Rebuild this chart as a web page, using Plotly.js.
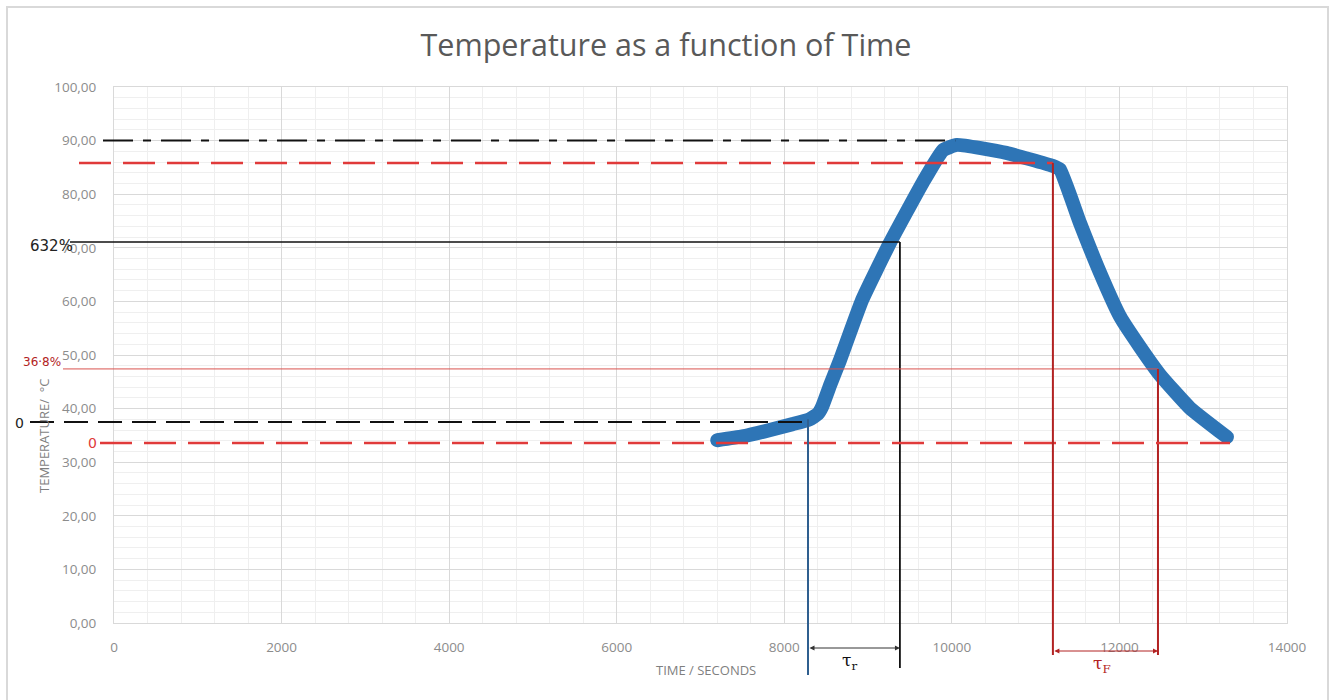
<!DOCTYPE html>
<html>
<head>
<meta charset="utf-8">
<script src="https://cdn.plot.ly/plotly-3.0.1.min.js"></script>
<style>
html,body{margin:0;padding:0;background:#fff;}
#chart{width:1334px;height:700px;}
.js-line{stroke-linecap:round;stroke-linejoin:round;}
</style>
</head>
<body>
<div id="chart"></div>
<script>
// ---- data ----
const timeSeconds = [7200, 7500, 7800, 8100, 8300, 8400, 8450, 8550, 8664, 8930, 9260, 9650, 9894, 10060, 10650, 11200, 11290, 11530, 11770, 12010, 12245, 12484, 12842, 13283];
const temperature = [34.1, 34.8, 35.9, 37.1, 38.0, 39.0, 40.3, 44.5, 49.0, 60.3, 70.9, 82.1, 88.2, 89.2, 87.7, 85.3, 84.6, 74.6, 65.3, 57.1, 51.5, 46.3, 40.1, 34.7];

const xTickValues = [0, 2000, 4000, 6000, 8000, 10000, 12000, 14000];
const yTickValues = [0, 10, 20, 30, 40, 50, 60, 70, 80, 90, 100];

// reference levels (°C) and times (s) marked on the chart
const levelMax = 90.0;        // black dash-dot
const levelFinal = 85.8;      // red dashed (top)
const level632 = 71.1;        // black solid (63.2 %)
const level368 = 47.4;        // red thin (36.8 %)
const levelStart = 37.5;      // black dashed
const levelZero = 33.6;       // red dashed (bottom)
const timeRiseStart = 8283;
const timeRise632 = 9380;
const timePeak = 10040;
const timeFallStart = 11206;
const timeFall368 = 12460;
const timeEnd = 13320;

// ---- geometry helpers (plot area in pixels) ----
const L = 114, R = 1287, T = 87, B = 623;
const XMAX = 14000, YMAX = 100;
const fx = v => v / XMAX;               // data -> paper
const fy = v => v / YMAX;
const px = p => (p - L) / (R - L);      // pixel -> paper
const py = p => (B - p) / (B - T);

const black = '#111111', red = '#E03A3A', darkRed = '#B22222', blueLine = '#2F5F8F';

function hline(x0, x1, y, color, width, dash) {
  return {type: 'line', xref: 'paper', yref: 'paper', x0: x0, x1: x1, y0: y, y1: y,
          line: {color: color, width: width, dash: dash || 'solid'}, layer: 'above'};
}
function vline(x, y0, y1, color, width) {
  return {type: 'line', xref: 'paper', yref: 'paper', x0: x, x1: x, y0: y0, y1: y1,
          line: {color: color, width: width}, layer: 'above'};
}
function label(text, xp, yp, font, extra) {
  return Object.assign({text: text, xref: 'paper', yref: 'paper', x: px(xp), y: py(yp),
    xanchor: 'center', yanchor: 'middle', showarrow: false, font: font}, extra || {});
}

const shapes = [
  // outer chart border
  {type: 'rect', xref: 'paper', yref: 'paper', x0: px(7), x1: px(1328), y0: py(712), y1: py(7),
   line: {color: '#d9d9d9', width: 2}, layer: 'below'},
  hline(px(103), fx(timePeak), fy(levelMax), black, 2, '30px,10px,8px,10px'),
  hline(px(79), fx(timeFallStart), fy(levelFinal), red, 2.5, '32px,12px'),
  hline(px(70), fx(timeRise632), fy(level632), black, 1.5),
  vline(fx(timeRise632), fy(level632), py(668), black, 1.8),
  hline(px(63), fx(timeFall368), fy(level368), '#D9534F', 1),
  vline(fx(timeFall368), fy(level368), py(655), darkRed, 2),
  hline(px(30), fx(timeRiseStart), fy(levelStart), black, 2, '24px,10px'),
  hline(px(100), fx(timeEnd), fy(levelZero), red, 2.5, '32px,12px'),
  vline(fx(timeRiseStart), fy(38.0), py(675), blueLine, 2),
  vline(fx(timeFallStart), fy(levelFinal), py(655), darkRed, 2)
];

const axisTitleFont = {family: 'Open Sans, sans-serif', size: 13, color: '#7f7f7f'};

const annotations = [
  // axis titles
  label('TIME / SECONDS', 706, 670, axisTitleFont),
  label('TEMPERATURE/  °C', 44, 436, axisTitleFont, {textangle: -90}),
  // double arrows
  {xref: 'paper', yref: 'paper', axref: 'pixel', ayref: 'pixel', x: fx(timeRise632), y: py(648),
   ax: -((fx(timeRise632) - fx(timeRiseStart)) * (R - L)), ay: 0, showarrow: true,
   arrowside: 'end+start', arrowhead: 2, arrowsize: 1, arrowwidth: 1, arrowcolor: '#333', text: ''},
  {xref: 'paper', yref: 'paper', axref: 'pixel', ayref: 'pixel', x: fx(timeFall368), y: py(651),
   ax: -((fx(timeFall368) - fx(timeFallStart)) * (R - L)), ay: 0, showarrow: true,
   arrowside: 'end+start', arrowhead: 2, arrowsize: 1, arrowwidth: 1, arrowcolor: darkRed, text: ''},
  // handwritten labels
  label('τ<sub>r</sub>', 849, 661, {family: 'DejaVu Serif, serif', size: 17, color: black}),
  label('τ<sub>F</sub>', 1102, 664, {family: 'DejaVu Serif, serif', size: 17, color: darkRed}),
  label('632%', 51, 246, {family: 'DejaVu Sans, sans-serif', size: 15, color: '#222'}),
  label('36·8%', 42, 362, {family: 'DejaVu Sans, sans-serif', size: 12, color: darkRed}),
  label('0', 19, 423, {family: 'DejaVu Sans, sans-serif', size: 14, color: '#222'}),
  label('0', 92, 443, {family: 'DejaVu Sans, sans-serif', size: 14, color: red})
];

const trace = {
  x: timeSeconds, y: temperature, type: 'scatter', mode: 'lines',
  line: {color: '#2E75B6', width: 14, shape: 'spline', smoothing: 0.4},
  hoverinfo: 'x+y', showlegend: false
};

const tickFont = {family: 'Open Sans, sans-serif', size: 13.5, color: '#8c8c8c'};

const layout = {
  width: 1334, height: 700,
  margin: {l: L, r: 1334 - R, t: T, b: 700 - B, pad: 0},
  paper_bgcolor: '#ffffff', plot_bgcolor: '#ffffff',
  separators: ', ',
  showlegend: false,
  title: {text: 'Temperature as a function of Time', x: 666 / 1334, xref: 'container', xanchor: 'center',
          y: 1 - 45 / 700, yref: 'container', yanchor: 'middle',
          font: {family: 'Open Sans, sans-serif', size: 30.5, color: '#595959'}},
  xaxis: {range: [0, XMAX], tickvals: xTickValues, tickformat: 'd', tickfont: tickFont,
          showgrid: true, gridcolor: '#d9d9d9', gridwidth: 1, zeroline: false,
          showline: true, linecolor: '#d9d9d9', mirror: true, ticks: '', ticklabelstandoff: 12,
          minor: {dtick: 400, showgrid: true, gridcolor: '#efefef', gridwidth: 1},
          fixedrange: true},
  yaxis: {range: [0, YMAX], tickvals: yTickValues, tickformat: '.2f', tickfont: tickFont,
          showgrid: true, gridcolor: '#d9d9d9', gridwidth: 1, zeroline: false,
          showline: true, linecolor: '#d9d9d9', mirror: true, ticks: '', ticklabelstandoff: 14,
          minor: {dtick: 2, showgrid: true, gridcolor: '#efefef', gridwidth: 1},
          fixedrange: true},
  shapes: shapes,
  annotations: annotations
};

Plotly.newPlot('chart', [trace], layout, {displayModeBar: false, staticPlot: true});
</script>
</body>
</html>
